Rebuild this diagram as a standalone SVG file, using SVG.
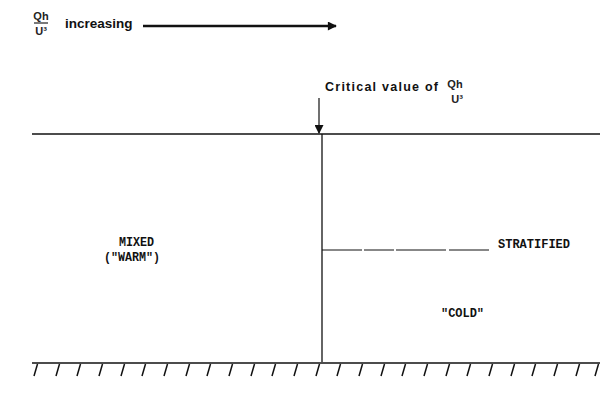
<svg xmlns="http://www.w3.org/2000/svg" width="600" height="406" viewBox="0 0 600 406">
<style>
.lbl{font-family:"Liberation Sans",Arial,sans-serif;font-weight:bold;fill:#111}
.tw{font-family:"Liberation Mono","DejaVu Sans Mono",monospace;font-weight:bold;font-size:12px;fill:#111}
.fr{font-family:"Liberation Sans",Arial,sans-serif;font-weight:bold;font-size:11px;fill:#222}
.ln{stroke:#111;stroke-width:1.3;fill:none}
.h{stroke:#111;stroke-width:1.5;fill:none}
</style>
<defs>
<marker id="ahd" viewBox="0 0 10 10" refX="9" refY="5" markerWidth="18" markerHeight="9" orient="auto" markerUnits="userSpaceOnUse">
<path d="M0,0 L10,5 L0,10 z" fill="#111"/>
</marker>
<path id="hatch" d="M4.5,0 L1,12"/>
</defs>
<g id="legend">
<text class="fr" x="41" y="20" text-anchor="middle">Qh</text>
<line x1="34" y1="23" x2="48" y2="23" stroke="#222" stroke-width="1.2"/>
<text class="fr" x="41" y="35" text-anchor="middle">U³</text>
<text class="lbl" x="65" y="28" font-size="13.5">increasing</text>
<line x1="143" y1="26" x2="336" y2="26" stroke="#111" stroke-width="2.6" marker-end="url(#ahd)"/>
</g>
<g id="critical-label">
<text class="lbl" x="325" y="91" font-size="12.5" textLength="113" lengthAdjust="spacing">Critical value of</text>
<text class="fr" x="455" y="88" text-anchor="middle">Qh</text>
<text class="fr" x="457" y="103" text-anchor="middle">U³</text>
</g>
<g id="connectors">
<line x1="319" y1="98" x2="319" y2="133" stroke="#111" stroke-width="1.2" marker-end="url(#ahd)"/>
<line class="ln" x1="32" y1="134" x2="600" y2="134"/>
<line class="ln" x1="322" y1="134" x2="322" y2="362"/>
<line x1="322" y1="250" x2="490" y2="250" stroke="#111" stroke-width="1" stroke-dasharray="40 2 30 2 50 3"/>
</g>
<g id="mixed">
<text class="tw" x="119" y="246" textLength="35" lengthAdjust="spacingAndGlyphs">MIXED</text>
<text class="tw" x="104" y="261" textLength="56" lengthAdjust="spacingAndGlyphs">("WARM")</text>
</g>
<g id="stratified">
<text class="tw" x="498" y="248" textLength="72" lengthAdjust="spacingAndGlyphs">STRATIFIED</text>
</g>
<g id="cold">
<text class="tw" x="441" y="317" textLength="43" lengthAdjust="spacingAndGlyphs">"COLD"</text>
</g>
<g id="ground">
<line x1="32" y1="363" x2="600" y2="363" stroke="#111" stroke-width="1.5"/>
<g class="h">
<use href="#hatch" x="33" y="364"/><use href="#hatch" x="55" y="364"/><use href="#hatch" x="76" y="364"/><use href="#hatch" x="98" y="364"/><use href="#hatch" x="120" y="364"/><use href="#hatch" x="141" y="364"/><use href="#hatch" x="163" y="364"/><use href="#hatch" x="185" y="364"/><use href="#hatch" x="206" y="364"/><use href="#hatch" x="228" y="364"/><use href="#hatch" x="250" y="364"/><use href="#hatch" x="271" y="364"/><use href="#hatch" x="293" y="364"/><use href="#hatch" x="315" y="364"/><use href="#hatch" x="336" y="364"/><use href="#hatch" x="358" y="364"/><use href="#hatch" x="380" y="364"/><use href="#hatch" x="401" y="364"/><use href="#hatch" x="423" y="364"/><use href="#hatch" x="445" y="364"/><use href="#hatch" x="466" y="364"/><use href="#hatch" x="488" y="364"/><use href="#hatch" x="510" y="364"/><use href="#hatch" x="531" y="364"/><use href="#hatch" x="553" y="364"/><use href="#hatch" x="575" y="364"/><use href="#hatch" x="594" y="364"/>
</g>
</g>
</svg>
